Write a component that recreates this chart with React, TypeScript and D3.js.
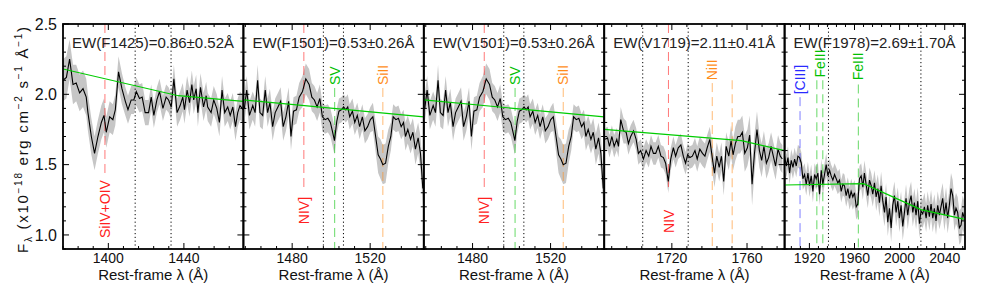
import React from "react";
import * as d3 from "d3";

const W = 981;
const H = 286;
const TOP = 24;
const BOTTOM = 249;
const LEFT = 63;
const RIGHT = 965;

const Y_DOMAIN: [number, number] = [0.9, 2.5];
const yTickLabels = [1.0, 1.5, 2.0, 2.5];

// stacked spectra: [rest-frame wavelength (A), flux, 1-sigma]
const specF1425 = [
  [1376.0, 2.10, 0.15], [1377.8, 2.12, 0.15], [1379.5, 2.25, 0.14], [1381.3, 2.07, 0.14],
  [1383.0, 2.08, 0.13], [1384.8, 2.01, 0.13], [1386.6, 2.04, 0.13], [1388.3, 1.98, 0.13],
  [1389.2, 1.87, 0.13], [1391.0, 1.70, 0.13], [1392.7, 1.58, 0.12], [1394.5, 1.70, 0.12],
  [1396.3, 1.80, 0.12], [1397.7, 1.85, 0.12], [1398.9, 1.73, 0.11], [1400.7, 1.84, 0.11],
  [1402.4, 1.82, 0.11], [1403.7, 1.89, 0.11], [1405.4, 2.16, 0.11], [1407.2, 2.04, 0.11],
  [1409.0, 1.95, 0.10], [1410.4, 1.89, 0.10], [1412.1, 1.96, 0.10], [1413.5, 1.96, 0.10],
  [1414.8, 2.02, 0.10], [1416.5, 1.97, 0.10], [1417.9, 1.98, 0.10], [1419.5, 1.87, 0.09],
  [1421.3, 1.87, 0.09], [1422.7, 1.98, 0.09], [1424.1, 1.85, 0.09], [1425.7, 1.96, 0.09],
  [1427.1, 2.02, 0.09], [1428.9, 1.90, 0.09], [1430.6, 1.98, 0.09], [1431.9, 1.96, 0.09],
  [1433.3, 1.91, 0.09], [1434.7, 2.11, 0.10], [1436.4, 1.87, 0.10], [1438.0, 1.92, 0.10],
  [1439.4, 1.98, 0.10], [1440.3, 1.89, 0.10], [1441.7, 2.03, 0.10], [1443.0, 1.94, 0.10],
  [1444.2, 2.07, 0.10], [1445.2, 1.96, 0.10], [1446.5, 2.04, 0.10], [1447.4, 1.87, 0.10],
  [1448.8, 2.05, 0.10], [1450.4, 1.91, 0.10], [1451.8, 1.99, 0.10], [1452.6, 1.91, 0.10],
  [1454.4, 1.87, 0.10], [1455.8, 1.96, 0.10], [1457.4, 1.90, 0.10], [1458.8, 1.80, 0.10],
  [1460.2, 2.03, 0.10], [1461.6, 1.87, 0.10], [1463.2, 1.91, 0.10], [1464.5, 1.85, 0.10],
  [1465.9, 1.91, 0.10], [1467.3, 1.77, 0.10], [1468.5, 1.87, 0.10], [1469.7, 1.92, 0.10],
  [1471.5, 1.89, 0.10],
];

// F1501 and V1501 stacks are identical
const specF1501 = [
  [1455.5, 1.90, 0.10], [1456.7, 2.03, 0.10], [1458.1, 1.85, 0.10], [1459.8, 1.92, 0.10],
  [1461.0, 1.87, 0.10], [1462.3, 2.10, 0.11], [1463.5, 1.87, 0.10], [1464.9, 1.85, 0.10],
  [1466.2, 2.03, 0.10], [1467.4, 1.87, 0.10], [1468.6, 1.94, 0.10], [1470.0, 1.77, 0.10],
  [1471.3, 1.87, 0.10], [1472.7, 1.91, 0.10], [1474.1, 1.95, 0.10], [1475.4, 1.77, 0.10],
  [1476.8, 1.84, 0.10], [1478.2, 1.95, 0.10], [1479.4, 1.70, 0.10], [1480.7, 1.88, 0.10],
  [1482.2, 1.89, 0.10], [1483.6, 1.98, 0.10], [1485.3, 2.02, 0.11], [1487.0, 2.11, 0.11],
  [1488.7, 2.07, 0.11], [1490.1, 1.98, 0.10], [1491.4, 1.96, 0.10], [1492.8, 1.91, 0.10],
  [1494.2, 1.97, 0.10], [1495.5, 1.84, 0.10], [1496.9, 1.82, 0.10], [1498.3, 1.83, 0.10],
  [1499.6, 1.80, 0.10], [1500.6, 1.74, 0.10], [1501.7, 1.67, 0.10], [1502.9, 1.81, 0.09],
  [1504.0, 1.88, 0.09], [1505.2, 1.89, 0.09], [1506.4, 1.91, 0.09], [1507.5, 1.89, 0.09],
  [1508.5, 1.91, 0.09], [1509.5, 1.84, 0.09], [1510.9, 1.88, 0.09], [1512.1, 1.80, 0.09],
  [1513.4, 1.85, 0.09], [1514.6, 1.77, 0.09], [1516.0, 1.84, 0.09], [1517.3, 1.74, 0.09],
  [1518.7, 1.77, 0.09], [1520.1, 1.82, 0.09], [1521.4, 1.84, 0.10], [1522.8, 1.70, 0.11],
  [1524.1, 1.57, 0.13], [1525.3, 1.54, 0.14], [1526.5, 1.50, 0.14], [1527.9, 1.51, 0.14],
  [1529.3, 1.63, 0.12], [1530.6, 1.70, 0.10], [1531.8, 1.84, 0.09], [1533.2, 1.82, 0.09],
  [1534.5, 1.83, 0.09], [1535.9, 1.77, 0.09], [1537.1, 1.80, 0.09], [1538.1, 1.70, 0.10],
  [1539.3, 1.75, 0.10], [1540.7, 1.68, 0.10], [1541.9, 1.73, 0.10], [1543.2, 1.61, 0.11],
  [1544.6, 1.69, 0.11], [1545.8, 1.58, 0.12], [1547.0, 1.33, 0.12],
];

const specV1719 = [
  [1684.5, 1.68, 0.08], [1685.8, 1.69, 0.08], [1686.8, 1.63, 0.08], [1688.1, 1.70, 0.08],
  [1689.3, 1.63, 0.08], [1690.7, 1.68, 0.08], [1691.6, 1.63, 0.08], [1692.8, 1.82, 0.09],
  [1694.3, 1.74, 0.09], [1695.7, 1.73, 0.08], [1696.9, 1.65, 0.08], [1698.1, 1.70, 0.08],
  [1699.6, 1.74, 0.08], [1701.0, 1.68, 0.08], [1702.2, 1.58, 0.08], [1703.4, 1.60, 0.08],
  [1704.9, 1.54, 0.08], [1706.3, 1.60, 0.08], [1707.7, 1.56, 0.08], [1708.9, 1.63, 0.08],
  [1710.2, 1.58, 0.08], [1711.4, 1.58, 0.08], [1712.8, 1.63, 0.08], [1714.2, 1.56, 0.08],
  [1715.5, 1.55, 0.08], [1716.7, 1.51, 0.08], [1718.1, 1.38, 0.08], [1719.4, 1.54, 0.08],
  [1720.8, 1.62, 0.08], [1722.0, 1.56, 0.08], [1723.4, 1.62, 0.08], [1724.8, 1.64, 0.08],
  [1726.1, 1.56, 0.08], [1727.3, 1.51, 0.08], [1728.4, 1.57, 0.08], [1729.6, 1.55, 0.08],
  [1730.9, 1.56, 0.08], [1732.3, 1.60, 0.09], [1733.5, 1.54, 0.09], [1734.9, 1.61, 0.09],
  [1736.3, 1.58, 0.09], [1737.6, 1.56, 0.09], [1738.8, 1.62, 0.09], [1740.2, 1.68, 0.09],
  [1741.5, 1.55, 0.10], [1742.7, 1.44, 0.10], [1743.9, 1.56, 0.10], [1745.2, 1.48, 0.10],
  [1746.4, 1.56, 0.10], [1747.6, 1.38, 0.10], [1748.9, 1.63, 0.10], [1750.3, 1.56, 0.10],
  [1751.5, 1.67, 0.11], [1752.6, 1.57, 0.11], [1753.8, 1.65, 0.12], [1755.1, 1.70, 0.12],
  [1756.3, 1.70, 0.12], [1757.5, 1.73, 0.12], [1758.8, 1.58, 0.13], [1760.2, 1.62, 0.13],
  [1761.4, 1.71, 0.14], [1762.7, 1.36, 0.15], [1763.9, 1.57, 0.14], [1765.3, 1.75, 0.13],
  [1766.6, 1.60, 0.12], [1767.8, 1.53, 0.12], [1769.0, 1.63, 0.11], [1770.3, 1.51, 0.11],
  [1771.5, 1.55, 0.10], [1772.8, 1.63, 0.10], [1774.0, 1.56, 0.10], [1775.2, 1.49, 0.10],
  [1776.5, 1.61, 0.10], [1777.7, 1.56, 0.10], [1778.8, 1.54, 0.10],
];

const specF1978 = [
  [1898.0, 1.56, 0.08], [1899.5, 1.49, 0.08], [1901.0, 1.55, 0.08], [1902.4, 1.44, 0.08],
  [1903.9, 1.53, 0.08], [1905.4, 1.48, 0.08], [1906.9, 1.54, 0.08], [1908.3, 1.49, 0.08],
  [1909.8, 1.56, 0.08], [1911.3, 1.55, 0.08], [1912.8, 1.51, 0.08], [1914.2, 1.40, 0.08],
  [1915.7, 1.43, 0.08], [1917.2, 1.36, 0.08], [1918.7, 1.44, 0.08], [1920.1, 1.35, 0.08],
  [1921.6, 1.42, 0.08], [1923.1, 1.31, 0.08], [1924.6, 1.43, 0.08], [1926.0, 1.40, 0.08],
  [1927.5, 1.44, 0.08], [1929.0, 1.29, 0.08], [1930.5, 1.46, 0.08], [1931.9, 1.36, 0.08],
  [1933.4, 1.43, 0.08], [1934.9, 1.50, 0.08], [1936.4, 1.42, 0.08], [1937.9, 1.46, 0.08],
  [1939.3, 1.42, 0.08], [1940.8, 1.39, 0.08], [1942.3, 1.43, 0.08], [1943.8, 1.40, 0.08],
  [1945.2, 1.37, 0.08], [1946.7, 1.39, 0.08], [1948.2, 1.31, 0.08], [1949.7, 1.36, 0.08],
  [1951.1, 1.35, 0.08], [1952.6, 1.28, 0.08], [1954.1, 1.33, 0.08], [1955.6, 1.26, 0.08],
  [1957.0, 1.31, 0.09], [1958.5, 1.27, 0.09], [1960.0, 1.30, 0.09], [1961.5, 1.20, 0.09],
  [1962.9, 1.22, 0.09], [1964.4, 1.40, 0.09], [1965.9, 1.42, 0.09], [1967.4, 1.34, 0.09],
  [1968.8, 1.44, 0.09], [1970.3, 1.36, 0.09], [1971.8, 1.28, 0.09], [1973.3, 1.39, 0.09],
  [1974.8, 1.35, 0.09], [1976.2, 1.29, 0.09], [1977.7, 1.37, 0.09], [1979.2, 1.27, 0.10],
  [1980.7, 1.33, 0.10], [1982.1, 1.23, 0.10], [1983.6, 1.35, 0.10], [1985.1, 1.24, 0.10],
  [1986.6, 1.16, 0.10], [1988.0, 1.27, 0.10], [1989.5, 1.09, 0.10], [1991.0, 1.19, 0.10],
  [1992.5, 1.05, 0.10], [1993.9, 1.21, 0.10], [1995.4, 1.28, 0.10], [1996.9, 1.16, 0.10],
  [1998.4, 1.24, 0.10], [1999.8, 1.12, 0.10], [2001.3, 1.21, 0.10], [2002.8, 1.06, 0.10],
  [2004.3, 1.16, 0.10], [2005.7, 1.26, 0.10], [2007.2, 1.14, 0.10], [2008.7, 1.23, 0.10],
  [2010.2, 1.28, 0.10], [2011.7, 1.16, 0.10], [2013.1, 1.23, 0.10], [2014.6, 1.14, 0.10],
  [2016.1, 1.24, 0.10], [2017.6, 1.08, 0.10], [2019.0, 1.17, 0.10], [2020.5, 1.15, 0.10],
  [2022.0, 1.20, 0.10], [2023.5, 1.12, 0.10], [2024.9, 1.21, 0.10], [2026.4, 1.13, 0.10],
  [2027.9, 1.22, 0.10], [2029.4, 1.12, 0.10], [2030.8, 1.19, 0.10], [2032.3, 1.10, 0.10],
  [2033.8, 1.21, 0.10], [2035.3, 1.14, 0.10], [2036.7, 1.20, 0.11], [2038.2, 1.26, 0.11],
  [2039.7, 1.14, 0.11], [2041.2, 1.23, 0.11], [2042.6, 1.12, 0.11], [2044.1, 1.21, 0.11],
  [2045.6, 1.33, 0.11], [2047.1, 1.28, 0.11], [2048.6, 1.14, 0.11], [2050.0, 1.19, 0.11],
  [2051.5, 1.16, 0.11], [2053.0, 1.05, 0.12], [2054.5, 1.07, 0.12], [2055.9, 1.16, 0.12],
  [2057.4, 1.12, 0.12],
];

// continuum fits: [wavelength, flux]
const contF1425 = [[1376, 2.18], [1437, 1.99], [1471.5, 1.95]];
const contF1501 = [[1455, 1.96], [1547.5, 1.84]];
const contV1719 = [[1684, 1.75], [1757, 1.67], [1780, 1.60]];
const contF1978 = [[1898, 1.355], [1968, 1.365], [2019, 1.18], [2058, 1.11]];

const panelSpectra = [specF1425, specF1501, specF1501, specV1719, specF1978];
const panelConts = [contF1425, contF1501, contF1501, contV1719, contF1978];
const panelDomains = [[1376, 1471.5], [1455, 1547.5], [1455, 1547.5], [1684, 1780], [1898, 2058]];
const panelTicks = [[1400, 1440], [1480, 1520], [1480, 1520], [1720, 1760], [1920, 1960, 2000, 2040]];
const panelTitles = [
  "EW(F1425)=0.86\u00b10.52\u00c5",
  "EW(F1501)=0.53\u00b10.26\u00c5",
  "EW(V1501)=0.53\u00b10.26\u00c5",
  "EW(V1719)=2.11\u00b10.41\u00c5",
  "EW(F1978)=2.69\u00b11.70\u00c5",
];
// integration windows (dotted)
const panelWindows = [[1414.2, 1433.2], [1496.0, 1506.3], [1496.0, 1506.3], [1704.5, 1728.7], [1936.9, 2018.9]];

const RED = "#ff2020";
const GREEN = "#00c000";
const ORANGE = "#ff8c1a";
const BLUE = "#2a2aff";

type Feature = { wl: number; from: number; to: number; color: string; label?: string; at?: number; below?: boolean; labelWl?: number };

const featF1425: Feature[] = [
  { wl: 1398.2, from: 2.5, to: 1.43, color: RED, label: "SiIV+OIV", at: 1.39, below: true },
];
const featF1501: Feature[] = [
  { wl: 1486.0, from: 2.5, to: 1.305, color: RED, label: "NIV]", at: 1.27, below: true },
  { wl: 1501.8, from: 2.045, to: 0.9, color: GREEN, label: "SV", at: 2.066 },
  { wl: 1526.5, from: 2.045, to: 0.9, color: ORANGE, label: "SiII", at: 2.066 },
];
const featV1719: Feature[] = [
  { wl: 1718.2, from: 2.5, to: 1.305, color: RED, label: "NIV", at: 1.18, below: true },
  { wl: 1741.5, from: 2.08, to: 0.9, color: ORANGE, label: "NiII", at: 2.10 },
  { wl: 1752.1, from: 2.10, to: 0.9, color: ORANGE },
];
const featF1978: Feature[] = [
  { wl: 1911.7, from: 1.98, to: 0.9, color: BLUE, label: "[CIII]", at: 2.0 },
  { wl: 1926.6, from: 2.10, to: 0.9, color: GREEN },
  { wl: 1931.9, from: 2.10, to: 0.9, color: GREEN, label: "FeIII", at: 2.12, labelWl: 1929.3 },
  { wl: 1963.4, from: 2.07, to: 0.9, color: GREEN, label: "FeIII", at: 2.10 },
];
const panelFeatures = [featF1425, featF1501, featF1501, featV1719, featF1978];

const FONT = "'Liberation Sans', Arial, Helvetica, sans-serif";

function Panel({ i, x0, x1, y }: { i: number; x0: number; x1: number; y: d3.ScaleLinear<number, number> }) {
  const x = d3.scaleLinear().domain(panelDomains[i]).range([x0, x1]);
  const spec = panelSpectra[i];
  const band = d3.area<number[]>().x(d => x(d[0])).y0(d => y(d[1] - d[2])).y1(d => y(d[1] + d[2]));
  const spectrum = d3.line<number[]>().x(d => x(d[0])).y(d => y(d[1]));
  const cont = d3.line<number[]>().x(d => x(d[0])).y(d => y(d[1]));
  const [d0, d1] = panelDomains[i];
  const minorX = d3.range(Math.ceil(d0 / 8) * 8, d1, 8);
  const minorY = d3.range(9, 26).map(v => v / 10);

  return (
    <g>
      <g clipPath={`url(#clip${i})`}>
        <path d={band(spec) || ""} fill="#c6c6c6" />
        {panelWindows[i].map((w, k) => (
          <line key={k} x1={x(w)} x2={x(w)} y1={TOP} y2={BOTTOM} stroke="#000" strokeWidth={1} strokeDasharray="1.2,2.6" />
        ))}
        {panelFeatures[i].map((f, k) => (
          <line key={k} x1={x(f.wl)} x2={x(f.wl)} y1={y(f.from)} y2={y(f.to)} stroke={f.color}
            strokeOpacity={0.6} strokeWidth={1} strokeDasharray="9,5" />
        ))}
        <path d={spectrum(spec) || ""} fill="none" stroke="#000" strokeWidth={1.1} />
        <path d={cont(panelConts[i]) || ""} fill="none" stroke="#00cc00" strokeWidth={1.2} />
      </g>
      {panelFeatures[i].filter(f => f.label).map((f, k) => (
        <text key={k} transform={`translate(${x(f.labelWl ?? f.wl)},${y(f.at!)}) rotate(-90)`} dy="0.36em"
          textAnchor={f.below ? "end" : "start"} fontSize={14} fill={f.color}>{f.label}</text>
      ))}
      <text x={x0 + 9} y={48} fontSize={15} fill="#222" textLength={162} lengthAdjust="spacingAndGlyphs">{panelTitles[i]}</text>
      {/* ticks on all four sides, pointing in */}
      {minorX.map(t => (
        <g key={`mx${t}`} stroke="#000" strokeWidth={1}>
          <line x1={x(t)} x2={x(t)} y1={BOTTOM} y2={BOTTOM - (panelTicks[i].includes(t) ? 6 : 3)} />
          <line x1={x(t)} x2={x(t)} y1={TOP} y2={TOP + (panelTicks[i].includes(t) ? 6 : 3)} />
        </g>
      ))}
      {minorY.map(t => {
        const major = yTickLabels.some(v => Math.abs(v - t) < 1e-6);
        const len = major ? 6 : 3;
        return (
          <g key={`my${t}`} stroke="#000" strokeWidth={1}>
            <line x1={x0} x2={x0 + len} y1={y(t)} y2={y(t)} />
            <line x1={x1} x2={x1 - len} y1={y(t)} y2={y(t)} />
          </g>
        );
      })}
      <rect x={x0} y={TOP} width={x1 - x0} height={BOTTOM - TOP} fill="none" stroke="#000" strokeWidth={1.8} />
      {panelTicks[i].map(t => (
        <text key={t} x={x(t)} y={263} textAnchor="middle" fontSize={14} fill="#111">{t}</text>
      ))}
      <text x={(x0 + x1) / 2} y={280} textAnchor="middle" fontSize={15} fill="#111">Rest-frame &#955; (&#197;)</text>
    </g>
  );
}

export default function App() {
  const n = panelDomains.length;
  const pw = (RIGHT - LEFT) / n;
  const y = d3.scaleLinear().domain(Y_DOMAIN).range([BOTTOM, TOP]);
  return (
    <svg width={W} height={H} style={{ position: "absolute", left: 0, top: 0, background: "#fff" }} fontFamily={FONT}>
      <defs>
        {panelDomains.map((_, i) => (
          <clipPath id={`clip${i}`} key={i}>
            <rect x={LEFT + i * pw} y={TOP} width={pw} height={BOTTOM - TOP} />
          </clipPath>
        ))}
      </defs>
      <rect width={W} height={H} fill="#fff" />
      {panelDomains.map((_, i) => (
        <Panel key={i} i={i} x0={LEFT + i * pw} x1={LEFT + (i + 1) * pw} y={y} />
      ))}
      {yTickLabels.map(t => (
        <text key={t} x={57} y={y(t)} dy="0.36em" textAnchor="end" fontSize={16} fill="#111">{t.toFixed(1)}</text>
      ))}
      <text transform="translate(28,140) rotate(-90)" textAnchor="middle" fontSize={15} fill="#111"
        textLength={226} lengthAdjust="spacing">
        F<tspan dy={4} fontSize={10}>&#955;</tspan>
        <tspan dy={-4}> (x10</tspan>
        <tspan dy={-6} fontSize={10}>&#8722;18</tspan>
        <tspan dy={6}> erg cm</tspan>
        <tspan dy={-6} fontSize={10}>&#8722;2</tspan>
        <tspan dy={6}> s</tspan>
        <tspan dy={-6} fontSize={10}>&#8722;1</tspan>
        <tspan dy={6}> &#197;</tspan>
        <tspan dy={-6} fontSize={10}>&#8722;1</tspan>
        <tspan dy={6}>)</tspan>
      </text>
    </svg>
  );
}
